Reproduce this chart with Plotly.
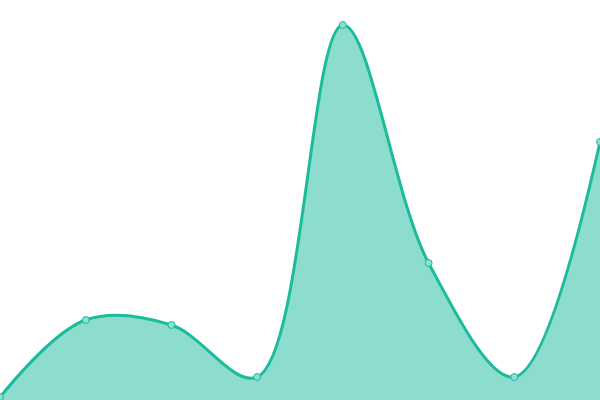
import plotly.graph_objects as go

# Data (one value per point, equally spaced)
labels = ["A", "B", "C", "D", "E", "F", "G", "H"]
values = [3, 80, 75, 23, 375, 137, 23, 258]

LINE = "#1abc9c"
FILL = "rgba(26,188,156,0.5)"

fig = go.Figure()

fig.add_trace(go.Scatter(
    x=list(range(len(labels))),
    y=values,
    mode="lines+markers",
    line=dict(color=LINE, width=3, shape="spline", smoothing=1),
    fill="tozeroy",
    fillcolor=FILL,
    marker=dict(size=7, color="#8be0cf", line=dict(color=LINE, width=1)),
    hoverinfo="skip",
    showlegend=False,
))

fig.update_layout(
    width=600,
    height=400,
    margin=dict(l=0, r=0, t=0, b=0),
    paper_bgcolor="white",
    plot_bgcolor="white",
)

fig.update_xaxes(visible=False, range=[0, len(labels) - 1])
fig.update_yaxes(visible=False, range=[0, 400])

# drop the browser's default body margin so the chart sits at the page corner
fig.write_html(
    "out.html",
    config={"displayModeBar": False, "staticPlot": True},
    post_script="document.body.style.margin='0';",
)
